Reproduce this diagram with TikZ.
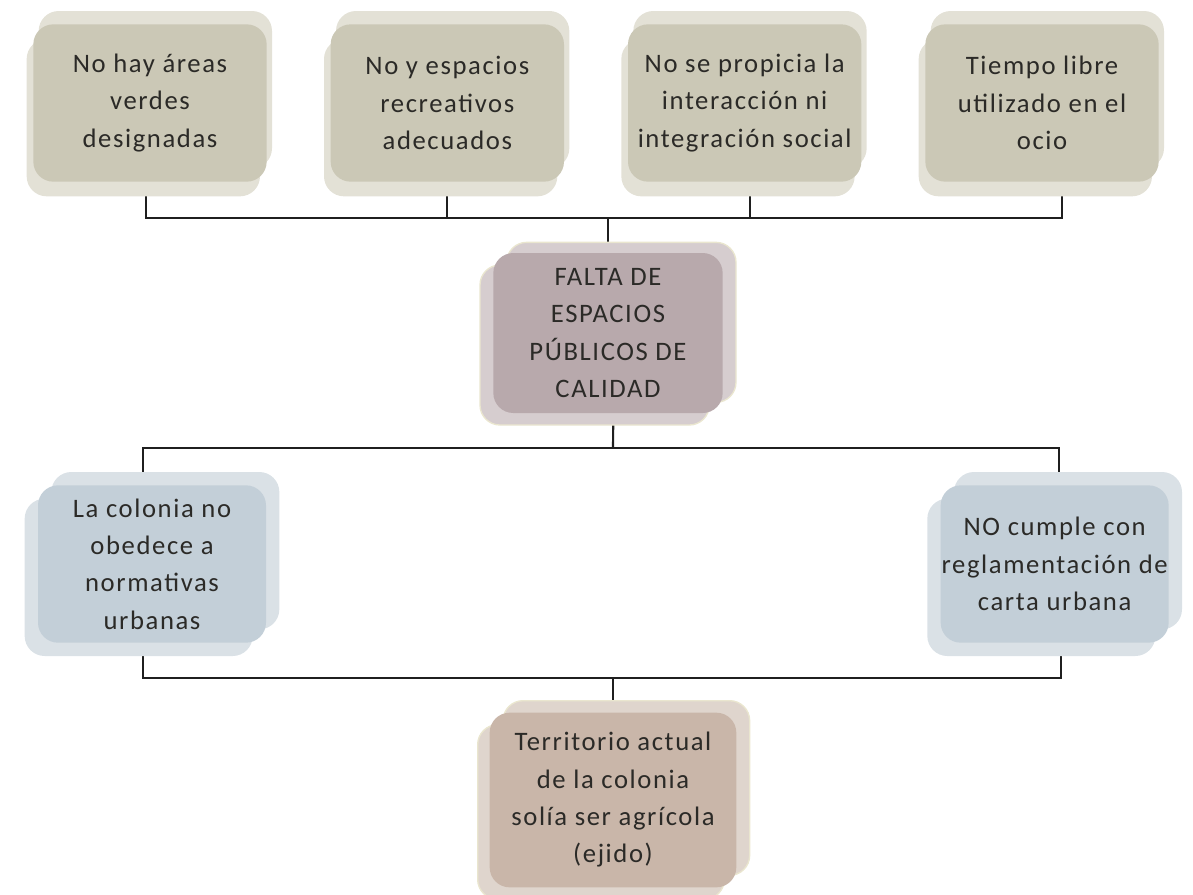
\documentclass[tikz,border=0pt]{standalone}
\usepackage{fontspec}
\setmainfont{Carlito}[LetterSpace=6]
\usetikzlibrary{shadows,backgrounds}

\definecolor{ink}{HTML}{2B2A27}
\definecolor{oliveA}{HTML}{CBC8B6}
\definecolor{oliveB}{HTML}{E3E1D6}
\definecolor{mauveA}{HTML}{B8A9AC}
\definecolor{mauveB}{HTML}{D6CDCF}
\definecolor{blueA}{HTML}{C3CFD8}
\definecolor{blueB}{HTML}{DAE1E6}
\definecolor{clayA}{HTML}{C9B6A9}
\definecolor{clayB}{HTML}{DFD5CD}
\definecolor{rim}{HTML}{EAE6CF}

\begin{document}
\begin{tikzpicture}[x=0.75pt,y=-0.75pt,node distance=223pt,
    wire/.style={draw=black!88,line width=1.6pt},
    main node/.style={rectangle,rounded corners=15pt,align=center,inner sep=0pt,
      text=ink,font=\fontsize{20}{28}\selectfont},
    top node/.style={main node,fill=oliveA,minimum width=175pt,minimum height=118pt,
      general shadow={shadow xshift=4pt,shadow yshift=10pt,fill=oliveB,draw=none},
      general shadow={shadow xshift=-5pt,shadow yshift=-11pt,fill=oliveB,draw=none}},
    core node/.style={main node,fill=mauveA,minimum width=172pt,minimum height=120pt,
      general shadow={shadow xshift=10pt,shadow yshift=8pt,fill=mauveB,draw=rim,line width=1pt},
      general shadow={shadow xshift=-10pt,shadow yshift=-9pt,fill=mauveB,draw=rim,line width=1pt}},
    side node/.style={main node,fill=blueA,minimum width=171pt,minimum height=118pt,
      general shadow={shadow xshift=10pt,shadow yshift=10pt,fill=blueB,draw=none},
      general shadow={shadow xshift=-10pt,shadow yshift=-10pt,fill=blueB,draw=none}},
    root node/.style={main node,fill=clayA,minimum width=185pt,minimum height=131pt,
      general shadow={shadow xshift=10pt,shadow yshift=9pt,fill=clayB,draw=rim,line width=1pt},
      general shadow={shadow xshift=-9pt,shadow yshift=-9pt,fill=clayB,draw=rim,line width=1pt}}]

  \useasboundingbox (0,0) rectangle (1193,894);

  % causes
  \node[top node] (1) at (150,103) {No hay áreas\\verdes\\designadas};
  \node[top node] (2) [right of=1] {No y espacios\\recreativos\\adecuados};
  \node[top node] (3) [right of=2] {No se propicia la\\interacción ni\\integración social};
  \node[top node] (4) [right of=3] {Tiempo libre\\utilizado en el\\ocio};

  % problem
  \node[core node] (5) at (608,333) {FALTA DE\\ESPACIOS\\PÚBLICOS DE\\CALIDAD};

  \node[side node] (6) at (152,564) {La colonia no\\obedece a\\normativas\\urbanas};
  \node[side node] (7) [right of=6, node distance=677pt] {NO cumple con\\reglamentación de\\carta urbana};

  \node[root node] (8) at (613,800) {Territorio actual\\de la colonia\\solía ser agrícola\\(ejido)};

  \coordinate (j1) at (608,218);
  \coordinate (j2) at (613,448);
  \coordinate (j3) at (613,678);

  \begin{scope}[on background layer,every path/.style={wire}]
    \draw ([xshift=-3pt]1.south) |- (j1);
    \draw ([xshift=15pt]4.south) |- (j1);
    \draw (2.south) -- (2.south |- j1);
    \draw ([xshift=4pt]3.south) -- ([xshift=4pt]3.south |- j1);
    \draw (j1) -- (5.north);

    \draw ([xshift=4pt]5.south) -- (j2);
    \draw (j2) -| ([xshift=-7pt]6.north);
    \draw (j2) -| ([xshift=3pt]7.north);

    \draw ([xshift=-7pt]6.south) |- (j3);
    \draw ([xshift=5pt]7.south) |- (j3);
    \draw (j3) -- (8.north);
  \end{scope}
\end{tikzpicture}
\end{document}
